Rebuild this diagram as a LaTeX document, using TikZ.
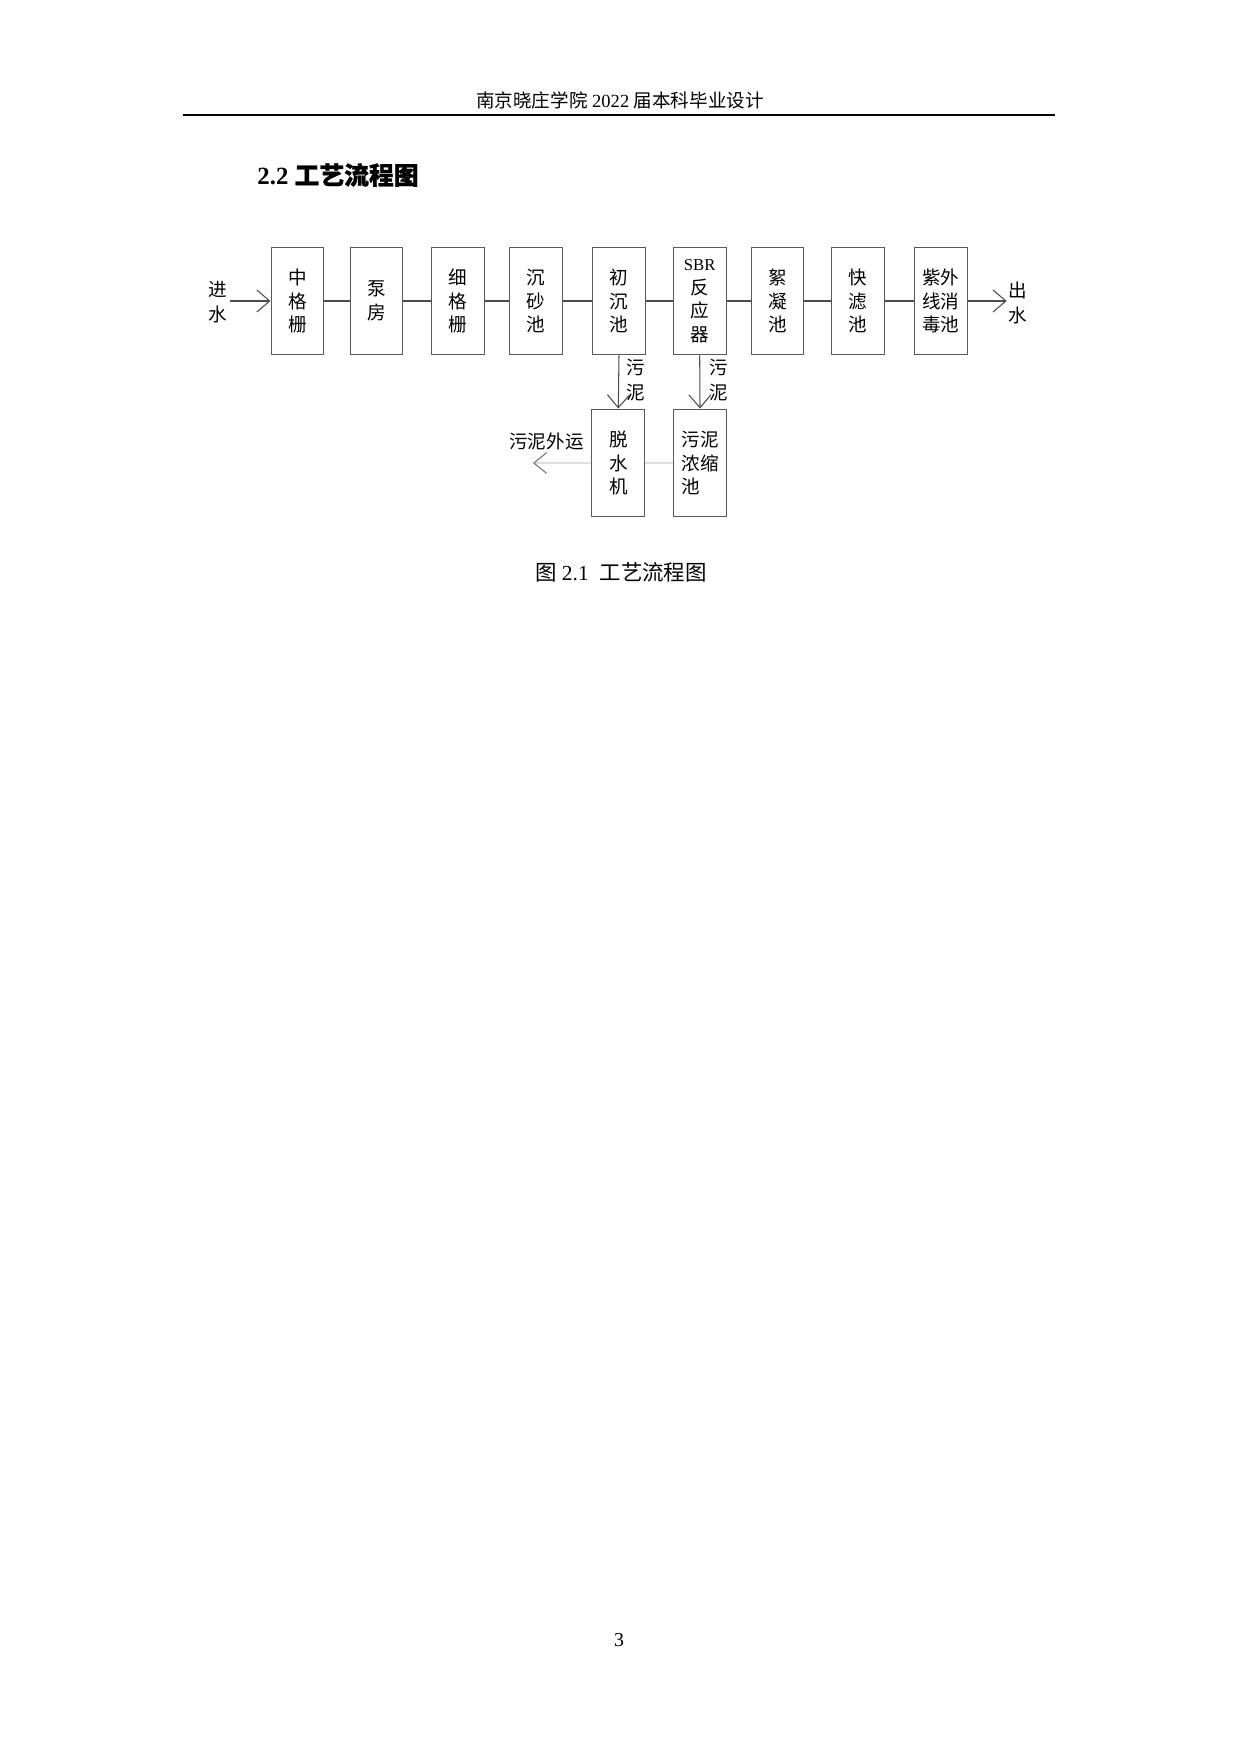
\documentclass[tikz,border=0pt]{standalone}
\usepackage{fontspec}
\setmainfont{Liberation Serif}
\newfontfamily\cjk{Noto Sans CJK SC}
\newfontfamily\cjkbf{Noto Sans CJK SC}[FakeBold=1]
\usetikzlibrary{arrows.meta}

\begin{document}
\begin{tikzpicture}
[x=0.48pt,y=-0.48pt,
every node/.style={inner sep=0pt},
unit/.style={draw=black!65,line width=0.5pt,minimum width=25.4pt,minimum height=51.8pt,align=center,font=\cjk\fontsize{8.9pt}{11.3pt}\selectfont},
word/.style={align=center,font=\cjk\fontsize{8.9pt}{11.8pt}\selectfont},
flow/.style={draw=black!70,line width=0.5pt},
into/.style={flow,-{Straight Barb[length=6.2pt,width=10.6pt]}},
faint/.style={draw=black!12,line width=0.5pt}]
\fill[white] (0,0) rectangle (1240,1754);
% page head
\node[anchor=base,font=\fontsize{8.9pt}{11pt}\selectfont] (hd) at (620,107) {{\cjk 南京晓庄学院} 2022 {\cjk 届本科毕业设计}};
\draw[line width=1pt] (183,115) -- (1055,115);
\node[anchor=west,font=\fontsize{11.9pt}{14pt}\selectfont\bfseries] (ttl) at (257,175) {2.2 {\cjkbf 工艺流程图}};
% main line
\node[unit] (zgs) at (297.5,301) {中\\格\\栅};
\node[unit] (bf) at (376.5,301) {泵\\房};
\node[unit] (xgs) at (458,301) {细\\格\\栅};
\node[unit] (cs) at (535.8,301) {沉\\砂\\池};
\node[unit] (cc) at (619,301) {初\\沉\\池};
\node[unit] (sbr) at (699.7,301) {{\rmfamily\fontsize{8pt}{11.3pt}\selectfont SBR}\\反\\应\\器};
\node[unit] (xn) at (777.5,301) {絮\\凝\\池};
\node[unit] (kl) at (858,301) {快\\滤\\池};
\node[unit] (zw) at (940.8,301) {紫外\\线消\\毒池};
% sludge line
\node[unit] (tsj) at (618.3,463) {脱\\水\\机};
\node[unit,align=left] (nsc) at (700,463) {污泥\\浓缩\\池};
\node[word] (jin) at (218,302) {进\\水};
\node[word] (chu) at (1018,303) {出\\水};
\node[word] (wn1) at (636,380) {污\\泥};
\node[word] (wn2) at (718.5,380) {污\\泥};
\node[word] (wy) at (546.5,441) {污泥外运};
\coordinate (in) at (230,301);
\coordinate (out) at (1006.7,301);
\coordinate (away) at (533,463);
\draw[into] (in) -- (zgs);
\foreach \a/\b in {zgs/bf,bf/xgs,xgs/cs,cs/cc,cc/sbr,sbr/xn,xn/kl,kl/zw}
  \draw[flow] (\a) -- (\b);
\draw[into] (zw) -- (out);
\draw[into] (cc.south) -- (tsj.north);
\draw[into] (sbr.south) -- (nsc.north);
\draw[faint] (nsc) -- (tsj);
\draw[faint,-{Straight Barb[length=6.2pt,width=10pt,color=black!55]}] (tsj) -- (away);
\node[font=\fontsize{10.3pt}{12pt}\selectfont] (cap) at (621,572) {{\cjk 图} 2.1\ \ {\cjk 工艺流程图}};
\node[font=\fontsize{9.5pt}{11pt}\selectfont] (pg) at (619,1640) {3};
\end{tikzpicture}
\end{document}
